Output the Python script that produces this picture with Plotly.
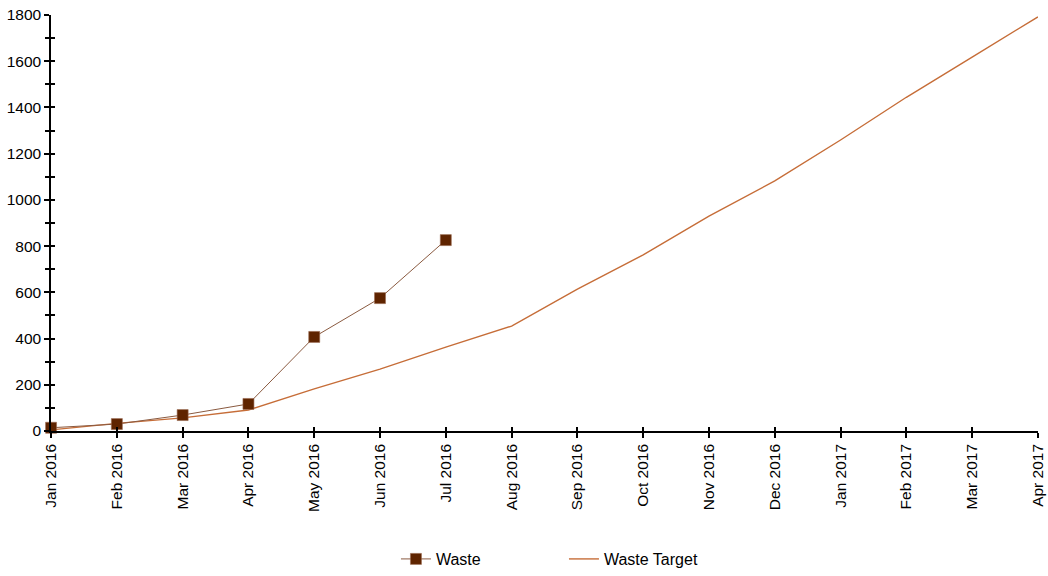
import plotly.graph_objects as go

months = ["Jan 2016", "Feb 2016", "Mar 2016", "Apr 2016", "May 2016", "Jun 2016",
          "Jul 2016", "Aug 2016", "Sep 2016", "Oct 2016", "Nov 2016", "Dec 2016",
          "Jan 2017", "Feb 2017", "Mar 2017", "Apr 2017"]
waste = [14, 30, 69, 117, 407, 575, 826]
waste_target = [5, 33, 57, 91, 182, 268, 363, 454, 614, 762, 930, 1082, 1259, 1444, 1618, 1792]

fam = "Liberation Sans, Arial, sans-serif"
font = dict(family=fam, size=15.5, color="#000000")

fig = go.Figure()
fig.add_trace(go.Scatter(
    x=months, y=waste_target, name="Waste Target", mode="lines",
    line=dict(color="#c66d38", width=1.4), cliponaxis=False))
fig.add_trace(go.Scatter(
    x=months[:len(waste)], y=waste, name="Waste", mode="lines+markers",
    line=dict(color="#8a5a40", width=1),
    marker=dict(symbol="square", size=11, color="#5f2400",
                line=dict(color="#9a6a50", width=0.6)),
    cliponaxis=False))
# dummy trace for the overlay axes that draw the inner half of the crossing ticks
fig.add_trace(go.Scatter(x=[months[0]], y=[None], xaxis="x2", yaxis="y2",
                         showlegend=False, hoverinfo="skip", mode="lines"))

axis_common = dict(showgrid=False, zeroline=False, tickcolor="#000000", tickwidth=1.5)
xr = [-0.001, len(months) - 1 + 0.001]

fig.update_layout(
    width=1048, height=576,
    margin=dict(l=51, r=10, t=15, b=145),
    paper_bgcolor="white", plot_bgcolor="white",
    font=font,
    showlegend=True,
    legend=dict(orientation="h", x=0.3495, xanchor="left",
                yref="container", y=0.0295, yanchor="middle",
                traceorder="reversed", font=dict(size=16, family=fam),
                entrywidth=123, entrywidthmode="pixels", tracegroupgap=0),
    xaxis=dict(type="category", categoryorder="array", categoryarray=months,
               range=xr, tickangle=-90, automargin=False, ticklabeloverflow="allow",
               showline=True, linecolor="#000000", linewidth=1.5,
               ticks="outside", ticklen=5, tickfont=dict(size=15.5), **axis_common),
    xaxis2=dict(type="category", categoryorder="array", categoryarray=months,
                range=xr, overlaying="x", side="bottom",
                automargin=False, showline=False, showticklabels=False,
                ticks="inside", ticklen=4, **axis_common),
    yaxis=dict(range=[0, 1800], dtick=200, automargin=False, ticklabeloverflow="allow",
               showline=True,
               linecolor="#000000", linewidth=1.5, ticks="outside", ticklen=5,
               tickfont=dict(size=15.5),
               minor=dict(dtick=100, ticks="outside", ticklen=4, tickcolor="#000000",
                          tickwidth=1.5),
               **axis_common),
    yaxis2=dict(range=[0, 1800], dtick=200, overlaying="y", side="left",
                automargin=False, showline=False, showticklabels=False,
                ticks="inside", ticklen=4,
                minor=dict(dtick=100, ticks="inside", ticklen=4, tickcolor="#000000",
                           tickwidth=1.5),
                **axis_common),
)

post = (
    "var h=document.documentElement, b=document.body;"
    "h.style.margin='0'; h.style.padding='0'; h.style.height='576px'; h.style.overflow='hidden';"
    "b.style.margin='0'; b.style.padding='0'; b.style.height='576px'; b.style.overflow='hidden';"
    "var d=document.getElementById('{plot_id}');"
    "d.style.position='absolute'; d.style.left='0px'; d.style.top='0px';"
)

fig.write_html("out.html", config={"displayModeBar": False}, post_script=post)
